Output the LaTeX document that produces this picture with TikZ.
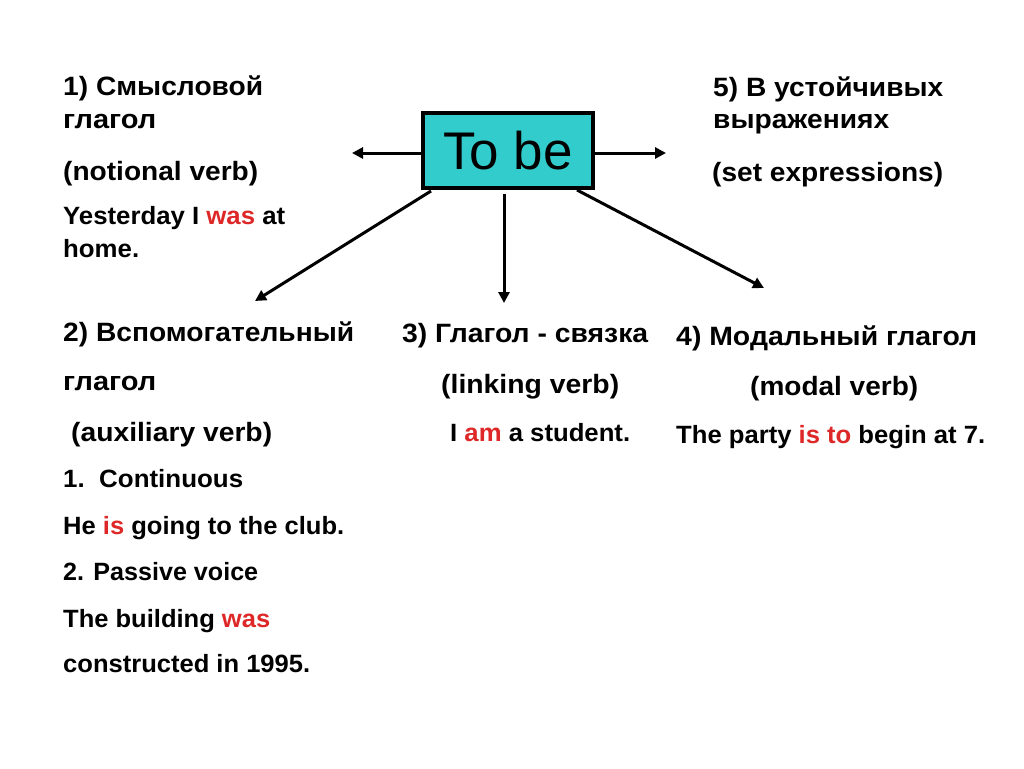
\documentclass[tikz,border=0pt]{standalone}
\usepackage{fontspec}
\setmainfont{Liberation Sans}
\usetikzlibrary{arrows.meta}
\definecolor{tbcyan}{RGB}{51,204,204}
\definecolor{hired}{RGB}{222,40,40}
\newcommand\hl[1]{\textcolor{hired}{#1}}
\newcommand\fitw[2]{\setbox0=\hbox{#2}\pgfmathsetmacro\fitf{#1/\wd0*1pt}\scalebox{\fitf}[1]{\box0}}
\tikzset{
  txt/.style={anchor=base west, inner sep=0pt, font=\bfseries\fontsize{26.5}{30}\selectfont},
  ex/.style={anchor=base west, inner sep=0pt, font=\bfseries\fontsize{25}{30}\selectfont},
  arr/.style={line width=3pt, -{Triangle[length=11pt,width=11pt]}},
  tobox/.style={draw=black, line width=3.2pt, fill=tbcyan, minimum width=170pt, minimum height=75pt, inner sep=0pt, font=\fontsize{53}{60}\selectfont}
}
\begin{document}
\begin{tikzpicture}[x=1pt,y=-1pt]
\useasboundingbox[fill=white] (0,0) rectangle (1024,768);
\node[tobox] (tb) at (508,150.5) {To be};
% arrow endpoints
\coordinate (lt) at (352,153);
\coordinate (rt) at (666,153);
\coordinate (s2) at (431,191);
\coordinate (t2) at (255,301);
\coordinate (s3) at (504,194);
\coordinate (t3) at (504,303);
\coordinate (s4) at (577,190);
\coordinate (t4) at (764,288);
\draw[arr] (tb.west |- lt) -- (lt);
\draw[arr] (tb.east |- rt) -- (rt);
\draw[arr] (s2) -- (t2);
\draw[arr] (s3) -- (t3);
\draw[arr] (s4) -- (t4);
% section 1
\node[txt] (a1) at (63,95) {\fitw{200}{1) Смысловой}};
\node[txt] (a2) at (63,128) {\fitw{93}{глагол}};
\node[txt] (a3) at (63,180) {\fitw{195}{(notional verb)}};
\node[ex] (a4) at (63,224) {\fitw{222}{Yesterday I \hl{was} at}};
\node[ex] (a5) at (63,257) {\fitw{76}{home.}};
% section 5
\node[txt] (e1) at (713,96) {\fitw{230}{5) В устойчивых}};
\node[txt] (e2) at (713,128) {\fitw{176}{выражениях}};
\node[txt] (e3) at (712,181) {\fitw{231}{(set expressions)}};
% section 2
\node[txt] (b1) at (63,341) {\fitw{291}{2) Вспомогательный}};
\node[txt] (b2) at (63,390) {\fitw{93}{глагол}};
\node[txt] (b3) at (71,441) {\fitw{201}{(auxiliary verb)}};
\node[ex] (b4) at (63,487) {\fitw{180}{1.\ \ Continuous}};
\node[ex] (b5) at (63,534) {\fitw{281}{He \hl{is} going to the club.}};
\node[ex] (b6) at (63,580) {\fitw{195}{2. Passive voice}};
\node[ex] (b7) at (63,627) {\fitw{207}{The building \hl{was}}};
\node[ex] (b8) at (63,672) {\fitw{247}{constructed in 1995.}};
% section 3
\node[txt] (c1) at (402,342) {\fitw{246}{3) Глагол - связка}};
\node[txt] (c2) at (441,393) {\fitw{178}{(linking verb)}};
\node[ex] (c3) at (450,441) {\fitw{180}{I \hl{am} a student.}};
% section 4
\node[txt] (d1) at (676,345) {\fitw{301}{4) Модальный глагол}};
\node[txt] (d2) at (750,395) {\fitw{168}{(modal verb)}};
\node[ex] (d3) at (676,443) {\fitw{309}{The party \hl{is to} begin at 7.}};
\end{tikzpicture}
\end{document}
